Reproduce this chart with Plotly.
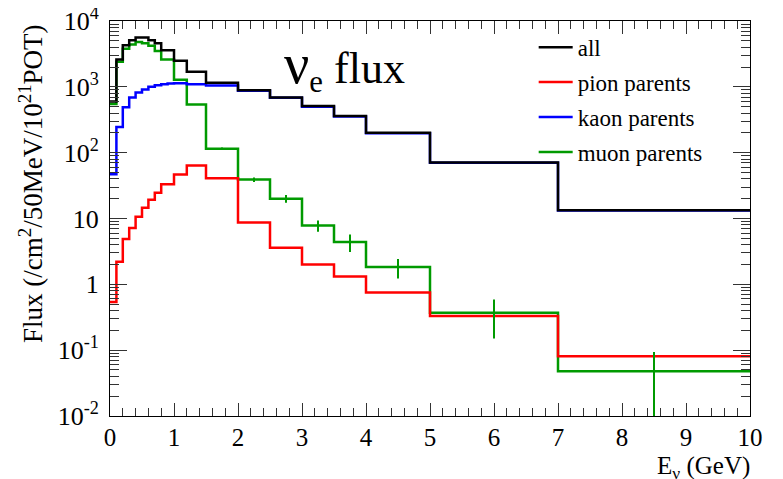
import plotly.graph_objects as go

# Bin edges (GeV)
edges = [0.0, 0.1, 0.2, 0.3, 0.4, 0.5, 0.6, 0.7, 0.8, 0.9, 1.0,
         1.2, 1.5, 2.0, 2.5, 3.0, 3.5, 4.0, 5.0, 7.0, 10.0]

# Flux per bin (/cm2/50MeV/1e21 POT)
flux_all = [600, 2600, 4300, 5100, 5600, 5600, 5100, 4600, 3600, 3600,
            2500, 1700, 1150, 890, 690, 510, 360, 200, 71, 13.3]
flux_pion = [0.54, 2.2, 4.9, 7.2, 10.6, 14.6, 19.2, 24.6, 33, 33,
             46.5, 64, 41, 8.7, 3.6, 2.0, 1.32, 0.75, 0.33, 0.081]
flux_kaon = [47, 246, 490, 687, 820, 910, 1000, 1057, 1096, 1120,
             1130, 1095, 1050, 870, 680, 500, 355, 198, 70, 13.2]
flux_muon = [550, 2400, 3800, 4400, 4800, 4600, 4200, 3500, 2600, 2600,
             1280, 540, 115, 39, 20, 7.8, 4.4, 1.83, 0.37, 0.048]

# Statistical errors on muon-parent histogram (bins from 1.5 GeV on)
err_first_bin = 12
muon_err = [5, 3, 2.7, 1.5, 1.3, 0.6, 0.22, 0.046]

ytick_vals = [1e-2, 1e-1, 1, 10, 100, 1e3, 1e4]
ytick_text = ["10<sup>-2</sup>", "10<sup>-1</sup>", "1", "10",
              "10<sup>2</sup>", "10<sup>3</sup>", "10<sup>4</sup>"]
xtick_vals = list(range(0, 11))

SERIF = "Liberation Serif"

series = [
    ("muon parents", flux_muon, "#009a00", 4),
    ("pion parents", flux_pion, "#ff0000", 2),
    ("kaon parents", flux_kaon, "#0000ff", 3),
    ("all", flux_all, "#000000", 1),
]

fig = go.Figure()
for name, vals, col, rank in series:
    fig.add_trace(go.Scatter(
        x=edges, y=vals + [vals[-1]], mode="lines", name=name,
        line=dict(shape="hv", color=col, width=2.5),
        legendrank=rank, legendgroup=name))

centers = [(edges[i] + edges[i + 1]) / 2 for i in range(len(edges) - 1)]
fig.add_trace(go.Scatter(
    x=centers[err_first_bin:], y=flux_muon[err_first_bin:], mode="markers",
    marker=dict(size=0.1, color="#009a00"), showlegend=False,
    error_y=dict(type="data", array=muon_err, symmetric=True,
                 color="#009a00", thickness=2, width=0)))

# page body has an 8px margin: figure is 775x471, plot area at 102..742, 13..408
fig.update_layout(
    width=775, height=471,
    margin=dict(l=102, r=33, t=13, b=63, autoexpand=False),
    paper_bgcolor="white", plot_bgcolor="white",
    font=dict(family=SERIF, size=26, color="black"),
    showlegend=True,
    legend=dict(x=0.662, y=0.988, xanchor="left", yanchor="top",
                bgcolor="rgba(0,0,0,0)", font=dict(size=23, family=SERIF),
                traceorder="grouped", tracegroupgap=2, itemwidth=34),
    xaxis=dict(range=[0, 10], tickvals=xtick_vals, showgrid=False, zeroline=False,
               automargin=False, ticklabeloverflow="allow",
               showline=True, linecolor="black", linewidth=1, mirror="allticks",
               ticks="inside", ticklen=13, tickcolor="#333", tickwidth=1,
               ticklabelstandoff=-1, tickfont=dict(size=25, family=SERIF),
               minor=dict(ticks="inside", dtick=0.2, ticklen=8, tickcolor="#333",
                          showgrid=False)),
    yaxis=dict(type="log", range=[-2, 4], tickvals=ytick_vals, ticktext=ytick_text,
               showgrid=False, zeroline=False, automargin=False,
               ticklabeloverflow="allow",
               showline=True, linecolor="black", linewidth=1, mirror="allticks",
               ticks="inside", ticklen=17, tickcolor="#333", tickwidth=1,
               ticklabelstandoff=5, tickfont=dict(size=26, family=SERIF),
               minor=dict(ticks="inside", dtick="D1", ticklen=9, tickcolor="#333",
                          showgrid=False)),
)

fig.add_annotation(text="<span style='font-size:56px'>ν</span><sub>e</sub> flux",
                   xref="paper", yref="paper",
                   x=(282 - 110) / 640, y=1 - (66 - 21) / 395,
                   xanchor="left", yanchor="middle", showarrow=False,
                   font=dict(size=44, family=SERIF))
fig.add_annotation(text="Flux (/cm<sup>2</sup>/50MeV/10<sup>21</sup>POT)",
                   xref="paper", yref="paper", x=-(110 - 31) / 640,
                   y=1 - (184 - 21) / 395, xanchor="center", yanchor="middle",
                   textangle=-90, showarrow=False, font=dict(size=27, family=SERIF))
fig.add_annotation(text="E<sub>ν</sub> (GeV)", xref="paper", yref="paper",
                   x=1.003, y=-(467 - 416) / 395, xanchor="right", yanchor="middle",
                   showarrow=False, font=dict(size=25, family=SERIF))

fig.write_html("out.html")
